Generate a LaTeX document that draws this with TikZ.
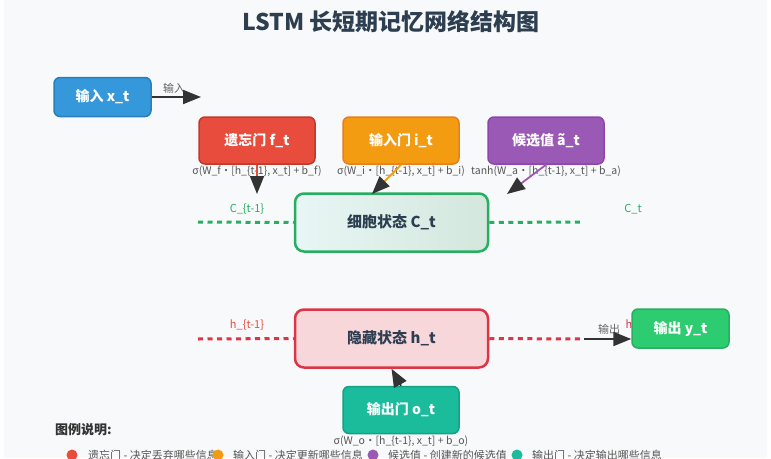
\documentclass[tikz,border=0pt]{standalone}
\usepackage{fontspec}
\setmainfont{Noto Sans CJK SC}
\usetikzlibrary{arrows.meta}
\definecolor{bgc}{HTML}{F8F9FA}
\definecolor{titlec}{HTML}{2C3E50}
\definecolor{blu}{HTML}{3498DB}\definecolor{blud}{HTML}{2980B9}
\definecolor{rd}{HTML}{E74C3C}\definecolor{rdd}{HTML}{C0392B}
\definecolor{orn}{HTML}{F39C12}\definecolor{ornd}{HTML}{E67E22}
\definecolor{pur}{HTML}{9B59B6}\definecolor{purd}{HTML}{8E44AD}
\definecolor{tea}{HTML}{1ABC9C}\definecolor{tead}{HTML}{16A085}
\definecolor{grn}{HTML}{2ECC71}\definecolor{grnd}{HTML}{27AE60}
\definecolor{hsf}{HTML}{F8D7DA}\definecolor{hsd}{HTML}{DC3545}
\definecolor{csa}{HTML}{E8F6F5}\definecolor{csb}{HTML}{D3E7DD}
\definecolor{darkc}{HTML}{333333}
\definecolor{formc}{HTML}{555555}
\tikzset{
  gatebox/.style={rounded corners=6pt, line width=1.5pt, text=white,
    font=\fontsize{14}{16}\selectfont\bfseries, minimum width=116pt, minimum height=47pt, inner sep=0pt},
  smallbox/.style={gatebox, minimum width=97pt, minimum height=39pt},
  statebox/.style={rounded corners=9pt, line width=2.5pt, text=titlec,
    font=\fontsize{15}{17}\selectfont\bfseries, minimum width=193pt, minimum height=58pt, inner sep=0pt},
  formula/.style={text=formc, font=\fontsize{10.5}{12}\selectfont, inner sep=0pt},
  smalllab/.style={font=\fontsize{11}{13}\selectfont, inner sep=0pt},
  legtext/.style={text=formc, font=\fontsize{11}{13}\selectfont, inner sep=0pt, anchor=west},
  tipdark/.style={-{Triangle[length=18pt,width=14pt,color=darkc]}},
  dotline/.style={line width=3pt, dash pattern=on 5pt off 4.5pt},
}
\begin{document}
\begin{tikzpicture}[x=1pt,y=-1pt]
\useasboundingbox (0,0) rectangle (771,458);
\clip (0,0) rectangle (771,458);
\fill[white] (0,0) rectangle (771,458);
\fill[bgc] (4,0) rectangle (767,458);

% title
\node[text=titlec, font=\fontsize{23}{26}\selectfont\bfseries] (title) at (391,22) {LSTM 长短期记忆网络结构图};

% input
\node[smallbox, fill=blu, draw=blud] (xin) at (102.5,97) {输入 x\_t};
\coordinate (xend) at (201,97);
\node[smalllab, text=formc!90] (inlab) at (174,88) {输入};
\draw[line width=2pt, darkc, tipdark] (xin.east) -- (xend);

% gates
\node[gatebox, fill=rd, draw=rdd] (fg) at (257,140.5) {遗忘门 f\_t};
\node[gatebox, fill=orn, draw=ornd] (ig) at (401,140.5) {输入门 i\_t};
\node[gatebox, fill=pur, draw=purd] (ag) at (546,140.5) {候选值 ã\_t};

\node[formula] (ff) at (257,171.5) {σ(W\_f・[h\_\{t-1\}, x\_t] + b\_f)};
\node[formula] (fi) at (401,171.5) {σ(W\_i・[h\_\{t-1\}, x\_t] + b\_i)};
\node[formula] (fa) at (546,171.5) {tanh(W\_a・[h\_\{t-1\}, x\_t] + b\_a)};

% cell state
\node[statebox, draw=grnd, left color=csa, right color=csb] (cs) at (391.5,222.5) {细胞状态 C\_t};
\coordinate (cl) at (198,222);
\coordinate (cr) at (582,222);
\draw[dotline, grnd] (cl) -- (cs.west);
\draw[dotline, grnd] (cs.east) -- (cr);
\node[smalllab, text=grnd] (clab) at (247,209) {C\_\{t-1\}};
\node[smalllab, text=grnd] (crlab) at (633,209) {C\_t};

% gate arrows
\coordinate (ftip) at (257,194);
\coordinate (itip) at (372,194);
\coordinate (atip) at (507,194);
\draw[line width=1.8pt, rd, tipdark] (fg.south) -- (ftip);
\draw[line width=1.8pt, orn, tipdark] (ig.south) -- (itip);
\draw[line width=1.8pt, pur, tipdark] (ag.south) -- (atip);

% hidden state
\node[statebox, draw=hsd, fill=hsf] (hs) at (391.5,338.5) {隐藏状态 h\_t};
\coordinate (hl) at (198,339);
\coordinate (hr) at (584,339);
\draw[dotline, hsd] (hl) -- (hs.west);
\draw[dotline, hsd] (hs.east) -- (hr);
\node[smalllab, text=rd] (hlab) at (247,325) {h\_\{t-1\}};
\node[smalllab, text=hsd] (hrlab) at (634,325) {h\_t};
\node[smalllab, text=formc!90] (outlab) at (609,329) {输出};

% output
\node[smallbox, fill=grn, draw=grnd] (yout) at (680.5,328.5) {输出 y\_t};
\draw[line width=2pt, darkc, tipdark] (hr) -- (hr -| yout.west);

% output gate
\node[gatebox, fill=tea, draw=tead] (og) at (401,410) {输出门 o\_t};
\node[formula] (fo) at (401,441) {σ(W\_o・[h\_\{t-1\}, x\_t] + b\_o)};
\draw[line width=1.8pt, darkc, tipdark] (og.north) -- (hs.south);

% legend
\node[anchor=west, text=darkc, font=\fontsize{13}{15}\selectfont\bfseries, inner sep=0pt] (legt) at (55,430) {图例说明:};
\fill[rd] (72,455) circle (5.5pt);
\node[legtext] (l1) at (88,455) {遗忘门 - 决定丢弃哪些信息};
\fill[orn] (218,455) circle (5.5pt);
\node[legtext] (l2) at (233,455) {输入门 - 决定更新哪些信息};
\fill[pur] (373,455) circle (5.5pt);
\node[legtext] (l3) at (388,455) {候选值 - 创建新的候选值};
\fill[tea] (517,455) circle (5.5pt);
\node[legtext] (l4) at (532,455) {输出门 - 决定输出哪些信息};
\end{tikzpicture}
\end{document}
